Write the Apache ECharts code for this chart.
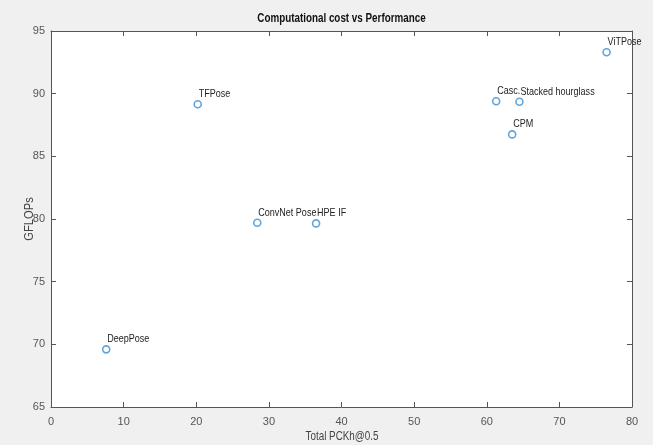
<!DOCTYPE html>
<html>
<head>
<meta charset="utf-8">
<script src="https://cdn.jsdelivr.net/npm/echarts@6/dist/echarts.min.js"></script>
<style>
html,body{margin:0;padding:0;background:#f0f0f0;}
#c{width:653px;height:445px;}
</style>
</head>
<body>
<div id="c"></div>
<script>
const names = ['DeepPose','TFPose','ConvNet Pose','HPE IF','Casc.','Stacked hourglass','CPM','ViTPose'];
const pckh = [7.6, 20.2, 28.4, 36.5, 61.3, 64.5, 63.5, 76.5];
const gflops = [69.6, 89.15, 79.7, 79.65, 89.4, 89.35, 86.75, 93.3];
const xTicks = [0,10,20,30,40,50,60,70,80];
const yTicks = [65,70,75,80,85,90,95];
const titleText = 'Computational cost vs Performance';
const xName = 'Total PCKh@0.5';
const yName = 'GFLOPs';

const FONT = '"Liberation Sans", Arial, sans-serif';
const SX = 0.82;
const axisColor = '#555';
const data = names.map((n,i)=>({name:n, value:[pckh[i], gflops[i]]}));

const chart = echarts.init(document.getElementById('c'));
const baseAxis = {
  axisLine:{show:true, onZero:false, lineStyle:{color:axisColor, width:1}},
  axisTick:{show:true, inside:true, length:5, lineStyle:{color:axisColor}},
  splitLine:{show:false}
};
chart.setOption({
  backgroundColor:'#f0f0f0',
  animation:false,
  grid:{left:51, right:21, top:31, bottom:38, show:true, backgroundColor:'#fff', borderWidth:0},
  graphic:[
    {type:'text', x:341.5, y:19, scaleX:SX, z:10,
     style:{text:titleText, font:'bold 12px '+FONT, fill:'#111', textAlign:'center', textVerticalAlign:'middle'}},
    {type:'text', x:342, y:437, scaleX:SX, z:10,
     style:{text:xName, font:'12px '+FONT, fill:'#444', textAlign:'center', textVerticalAlign:'middle'}},
    {type:'text', x:29, y:219, rotation:Math.PI/2, scaleX:0.86, z:10,
     style:{text:yName, font:'13px '+FONT, fill:'#444', textAlign:'center', textVerticalAlign:'middle'}}
  ],
  xAxis:[
    Object.assign({}, baseAxis, {
      type:'value', min:xTicks[0], max:xTicks[xTicks.length-1], interval:10, position:'bottom',
      axisLabel:{fontFamily:FONT, fontSize:11, color:'#555', margin:9}
    }),
    Object.assign({}, baseAxis, {
      type:'value', min:xTicks[0], max:xTicks[xTicks.length-1], interval:10, position:'top',
      axisLabel:{show:false}
    })
  ],
  yAxis:[
    Object.assign({}, baseAxis, {
      type:'value', min:yTicks[0], max:yTicks[yTicks.length-1], interval:5, position:'left',
      axisLabel:{fontFamily:FONT, fontSize:11, color:'#555', margin:6}
    }),
    Object.assign({}, baseAxis, {
      type:'value', min:yTicks[0], max:yTicks[yTicks.length-1], interval:5, position:'right',
      axisLabel:{show:false}
    })
  ],
  series:[{
    type:'scatter',
    data:data,
    symbol:'circle',
    symbolSize:7,
    itemStyle:{color:'#fff', borderColor:'#3a8ed3', borderWidth:1.6},
    z:3
  },{
    type:'custom',
    data:data,
    z:4,
    silent:true,
    renderItem:function(params, api){
      const p = api.coord([api.value(0), api.value(1)]);
      return {
        type:'text',
        x:p[0]+1, y:p[1]-10, scaleX:SX,
        style:{text:names[params.dataIndex], font:'11px '+FONT, fill:'#222',
               textAlign:'left', textVerticalAlign:'middle'}
      };
    }
  }]
});
</script>
</body>
</html>
